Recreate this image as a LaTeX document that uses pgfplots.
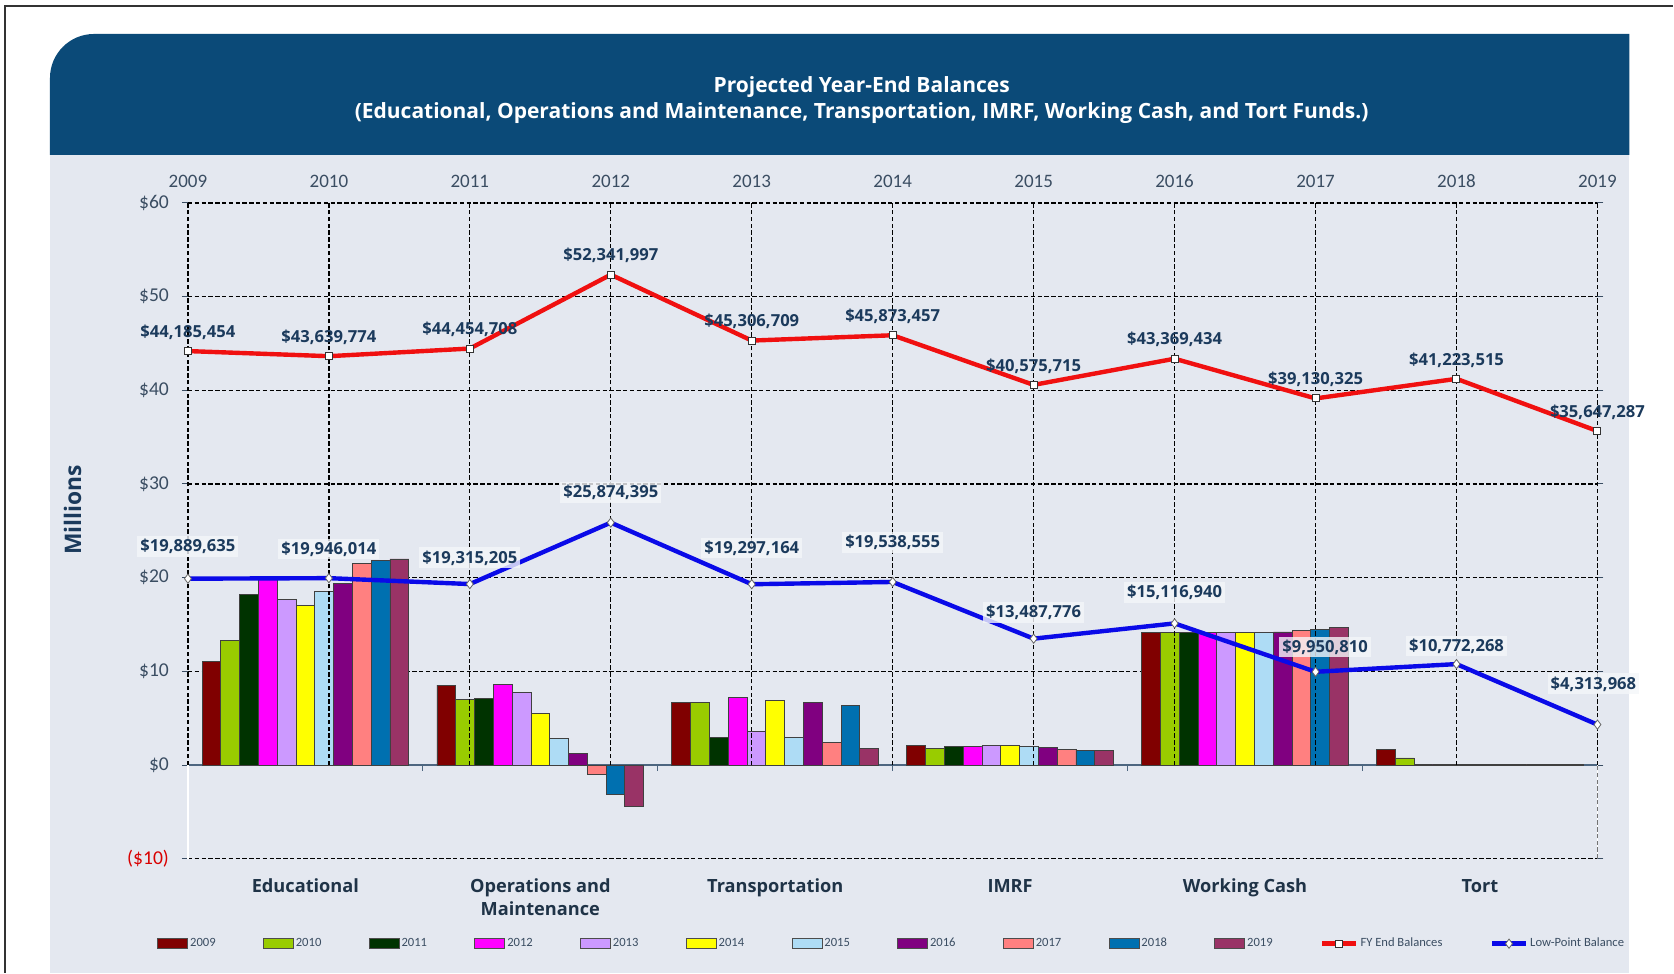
\documentclass[border=0pt]{standalone}
\usepackage{pgfplots}
\pgfplotsset{compat=1.18}
\usepackage{fontspec}
\setmainfont{Carlito}
\newfontfamily\osans{Open Sans}
\definecolor{banner}{HTML}{0B4A78}
\definecolor{panel}{HTML}{E4E8F0}
\definecolor{labnavy}{HTML}{1B3A5C}
\definecolor{ticktxt}{HTML}{3A4D62}
\definecolor{cattxt}{HTML}{1F3347}
\definecolor{c2009}{HTML}{800000}
\definecolor{c2010}{HTML}{99CC00}
\definecolor{c2011}{HTML}{003300}
\definecolor{c2012}{HTML}{FF00FF}
\definecolor{c2013}{HTML}{CC99FF}
\definecolor{c2014}{HTML}{FFFF00}
\definecolor{c2015}{HTML}{AEDCF5}
\definecolor{c2016}{HTML}{800080}
\definecolor{c2017}{HTML}{FF8080}
\definecolor{c2018}{HTML}{0070B0}
\definecolor{c2019}{HTML}{993366}
\definecolor{fyred}{HTML}{F01010}
\definecolor{lpblue}{HTML}{0A0AE8}
\definecolor{zeroline}{HTML}{4D6680}
\pgfplotsset{
  swatch legend/.style={legend image code/.code={\draw[##1] (0pt,-2.6pt) rectangle (15pt,2.6pt);}},
  line legend two/.style={legend image code/.code={\draw[##1,mark repeat=2,mark phase=2] plot coordinates {(0pt,0pt) (8.5pt,0pt) (17pt,0pt)};}},
}
\begin{document}
\begin{tikzpicture}
\path (0,0) rectangle (837pt,486.5pt);
\draw[black!80, line width=0.6pt] (2.5pt,0) -- (2.5pt,483.5pt) -- (837pt,483.5pt);
\fill[panel] (25pt,0) rectangle (815pt,409pt);
\fill[banner] (25pt,409pt) [rounded corners=22pt] -- (25pt,469.5pt) [sharp corners] -- (815pt,469.5pt) -- (815pt,409pt) -- cycle;
\node[text=white, font=\osans\fontsize{10.5}{13}\selectfont\bfseries] at (431pt,443.2pt) {Projected Year-End Balances};
\node[text=white, font=\osans\fontsize{10.5}{13}\selectfont\bfseries] at (431pt,430pt) {(Educational, Operations and Maintenance, Transportation, IMRF, Working Cash, and Tort Funds.)};
\node[rotate=90, font=\osans\fontsize{11.4}{14}\selectfont\bfseries, text=labnavy] at (36.3pt,231.5pt) {Millions};

% ---------- bars (category axis) ----------
\begin{axis}[
  at={(94pt,57pt)}, anchor=south west, scale only axis, width=705pt, height=328pt,
  xmin=0, xmax=6, ymin=-10, ymax=60,
  ybar=0pt, bar width=0.08,
  axis line style={draw=none},
  xtick=\empty,
  ytick={-10,0,10,20,30,40,50,60},
  yticklabels={\textcolor{red!85!black}{(\$10)},\$0,\$10,\$20,\$30,\$40,\$50,\$60},
  yticklabel style={font=\fontsize{9.8}{11}\selectfont, text=ticktxt, xshift=-3pt},
  tick align=outside, major tick length=3pt,
  ytick style={draw=ticktxt, line width=0.5pt},
  ymajorgrids, grid style={black, dash pattern=on 2.2pt off 1.2pt, line width=0.6pt},
  every axis plot/.append style={draw=black!75, line width=0.4pt},
  clip=false,
]
\draw[zeroline, line width=0.9pt] (axis cs:0,0) -- (axis cs:6,0);
\pgfplotsinvokeforeach{0,1,2,3,4,5,6}{\draw[zeroline, line width=0.6pt] (axis cs:#1,0) -- ++(0pt,-3pt);}
\addplot[fill=c2009] coordinates {(0.5,11.1) (1.5,8.52) (2.5,6.64) (3.5,2.13) (4.5,14.17) (5.5,1.63)};
\addplot[fill=c2010] coordinates {(0.5,13.25) (1.5,7.03) (2.5,6.64) (3.5,1.77) (4.5,14.17) (5.5,0.75)};
\addplot[fill=c2011] coordinates {(0.5,18.25) (1.5,7.1) (2.5,2.98) (3.5,1.95) (4.5,14.17) (5.5,0.08)};
\addplot[fill=c2012] coordinates {(0.5,20.1) (1.5,8.6) (2.5,7.24) (3.5,2.02) (4.5,14.17) (5.5,0.08)};
\addplot[fill=c2013] coordinates {(0.5,17.65) (1.5,7.74) (2.5,3.58) (3.5,2.13) (4.5,14.17) (5.5,0.08)};
\addplot[fill=c2014] coordinates {(0.5,17.0) (1.5,5.54) (2.5,6.88) (3.5,2.13) (4.5,14.17) (5.5,0.08)};
\addplot[fill=c2015] coordinates {(0.5,18.5) (1.5,2.88) (2.5,2.98) (3.5,1.95) (4.5,14.17) (5.5,0.08)};
\addplot[fill=c2016] coordinates {(0.5,19.4) (1.5,1.2) (2.5,6.71) (3.5,1.84) (4.5,14.2) (5.5,0.08)};
\addplot[fill=c2017] coordinates {(0.5,21.55) (1.5,-0.99) (2.5,2.45) (3.5,1.70) (4.5,14.35) (5.5,0.08)};
\addplot[fill=c2018] coordinates {(0.5,21.8) (1.5,-3.16) (2.5,6.39) (3.5,1.60) (4.5,14.5) (5.5,0.08)};
\addplot[fill=c2019] coordinates {(0.5,22.0) (1.5,-4.47) (2.5,1.81) (3.5,1.53) (4.5,14.67) (5.5,0.08)};
\begin{scope}[every node/.style={anchor=north, align=center, inner sep=0pt, yshift=-10pt, font=\osans\fontsize{9.1}{11.2}\selectfont\bfseries, text=cattxt}]
\node at (axis cs:0.5,-10) {Educational};
\node at (axis cs:1.5,-10) {Operations and\\Maintenance};
\node at (axis cs:2.5,-10) {Transportation};
\node at (axis cs:3.5,-10) {IMRF};
\node at (axis cs:4.5,-10) {Working Cash};
\node at (axis cs:5.5,-10) {Tort};
\end{scope}
\end{axis}

% ---------- lines (year axis) ----------
\begin{axis}[
  at={(94pt,57pt)}, anchor=south west, scale only axis, width=705pt, height=328pt,
  xmin=2009, xmax=2019, ymin=-10, ymax=60,
  axis line style={draw=none}, xtick=\empty, ytick=\empty,
  clip=false,
  legend style={at={(0,0)}, anchor=west, xshift=-15.5pt, yshift=-42.5pt, draw=none, fill=none,
    font=\fontsize{6.3}{7}\selectfont, legend columns=-1, inner sep=0pt,
    nodes={inner sep=1pt, text=ticktxt},
    /tikz/every even column/.append style={column sep=22.7pt}},
  legend cell align=left,
]
\draw[white, line width=0.6pt] (axis cs:2009,-10) -- (axis cs:2009,0);
\draw[white, line width=0.6pt] (axis cs:2019,-10) -- (axis cs:2019,0);
\draw[black!55, dash pattern=on 2.2pt off 1.2pt, line width=0.6pt] (axis cs:2019,-10) -- (axis cs:2019,0);
\pgfplotsinvokeforeach{2009,2010,2011,2012,2013,2014,2015,2016,2017,2018,2019}{
  \draw[black, dash pattern=on 2.2pt off 1.2pt, line width=0.65pt] (axis cs:#1,0) -- (axis cs:#1,60);
  \draw[black, line width=0.65pt] (axis cs:#1,60) -- ++(0pt,-2.5pt);
  \node[anchor=base, yshift=7.5pt, font=\fontsize{9.5}{11}\selectfont, text=ticktxt] at (axis cs:#1,60) {#1};
}
\addlegendimage{swatch legend, fill=c2009, draw=black!70}\addlegendentry{2009}
\addlegendimage{swatch legend, fill=c2010, draw=black!70}\addlegendentry{2010}
\addlegendimage{swatch legend, fill=c2011, draw=black!70}\addlegendentry{2011}
\addlegendimage{swatch legend, fill=c2012, draw=black!70}\addlegendentry{2012}
\addlegendimage{swatch legend, fill=c2013, draw=black!70}\addlegendentry{2013}
\addlegendimage{swatch legend, fill=c2014, draw=black!70}\addlegendentry{2014}
\addlegendimage{swatch legend, fill=c2015, draw=black!70}\addlegendentry{2015}
\addlegendimage{swatch legend, fill=c2016, draw=black!70}\addlegendentry{2016}
\addlegendimage{swatch legend, fill=c2017, draw=black!70}\addlegendentry{2017}
\addlegendimage{swatch legend, fill=c2018, draw=black!70}\addlegendentry{2018}
\addlegendimage{swatch legend, fill=c2019, draw=black!70}\addlegendentry{2019}
\addplot[line legend two, fyred, line width=2.2pt, mark=square*, mark size=1.75pt,
  mark options={fill=white, draw=black!80, line width=0.5pt},
  nodes near coords, point meta=explicit symbolic,
  every node near coord/.style={anchor=base, yshift=6.9pt, font=\osans\fontsize{8.3}{10}\selectfont\bfseries, text=labnavy}]
  table[x=year, y=val, meta=lab] {
year val lab
2009 44.185454 {\$44,185,454}
2010 43.639774 {\$43,639,774}
2011 44.454708 {\$44,454,708}
2012 52.341997 {\$52,341,997}
2013 45.306709 {\$45,306,709}
2014 45.873457 {\$45,873,457}
2015 40.575715 {\$40,575,715}
2016 43.369434 {\$43,369,434}
2017 39.130325 {\$39,130,325}
2018 41.223515 {\$41,223,515}
2019 35.647287 {\$35,647,287}
};
\addlegendentry{FY End Balances}
\addplot[line legend two, lpblue, line width=2.2pt, mark=diamond*, mark size=2.3pt,
  mark options={fill=white, draw=black!60, line width=0.4pt},
  nodes near coords, point meta=explicit symbolic,
  visualization depends on=value \thisrow{dy} \as \labdy,
  visualization depends on=value \thisrow{dx} \as \labdx,
  every node near coord/.style={anchor=base, yshift=\labdy pt, xshift=\labdx pt, inner sep=1.5pt,
    fill=panel!40!white, fill opacity=0.8, text opacity=1,
    font=\osans\fontsize{8.3}{10}\selectfont\bfseries, text=labnavy}]
  table[x=year, y=val, meta=lab] {
year val lab dy dx
2009 19.889635 {\$19,889,635} 13.5 0
2010 19.946014 {\$19,946,014} 12.0 0
2011 19.315205 {\$19,315,205} 10.5 0
2012 25.874395 {\$25,874,395} 12.5 0
2013 19.297164 {\$19,297,164} 15.5 0
2014 19.538555 {\$19,538,555} 17.2 0
2015 13.487776 {\$13,487,776} 10.5 0
2016 15.116940 {\$15,116,940} 13.0 0
2017 9.950810 {\$9,950,810} 9.8 4.8
2018 10.772268 {\$10,772,268} 6.5 0
2019 4.313968 {\$4,313,968} 17.8 -2
};
\addlegendentry{Low-Point Balance}
\end{axis}
\end{tikzpicture}
\end{document}
